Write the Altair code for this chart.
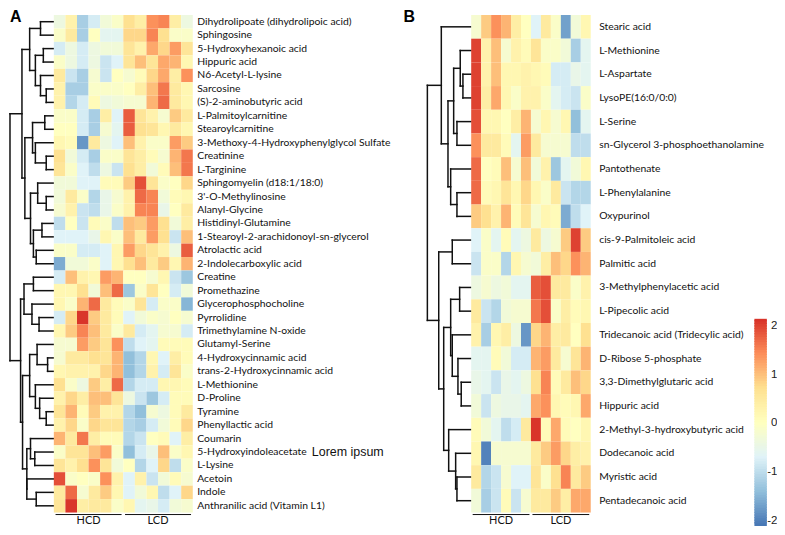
import altair as alt
import pandas as pd

labels_a = ["Dihydrolipoate (dihydrolipoic acid)", "Sphingosine", "5-Hydroxyhexanoic acid", "Hippuric acid",
    "N6-Acetyl-L-lysine", "Sarcosine", "(S)-2-aminobutyric acid", "L-Palmitoylcarnitine", "Stearoylcarnitine",
    "3-Methoxy-4-Hydroxyphenylglycol Sulfate", "Creatinine", "L-Targinine", "Sphingomyelin (d18:1/18:0)",
    "3'-O-Methylinosine", "Alanyl-Glycine", "Histidinyl-Glutamine", "1-Stearoyl-2-arachidonoyl-sn-glycerol",
    "Atrolactic acid", "2-Indolecarboxylic acid", "Creatine", "Promethazine", "Glycerophosphocholine",
    "Pyrrolidine", "Trimethylamine N-oxide", "Glutamyl-Serine", "4-Hydroxycinnamic acid",
    "trans-2-Hydroxycinnamic acid", "L-Methionine", "D-Proline", "Tyramine", "Phenyllactic acid", "Coumarin",
    "5-Hydroxyindoleacetate", "L-Lysine", "Acetoin", "Indole", "Anthranilic acid (Vitamin L1)"]

values_a = [
    [-0.4, 0.3, -1.2, -0.8, -0.3, -0.1, 0.7, 0.4, 1.4, 1.5, 0.4, -0.4],
    [-0.1, 0.5, -1.2, 0.0, -0.6, -0.6, 0.8, 0.8, 1.5, 0.7, -0.1, -0.1],
    [-0.8, -0.4, -0.8, -0.4, -0.3, -0.3, 0.6, 0.3, 1.2, 0.8, 1.3, 0.6],
    [-0.1, -0.4, -0.8, -0.4, -0.9, -0.7, 0.6, 1.0, 0.6, 1.2, 1.1, 0.2],
    [0.5, -0.9, -1.2, -0.2, -0.9, 0.0, -0.2, 0.1, 0.8, 1.2, 0.4, 1.4],
    [0.3, -1.2, -1.2, -0.1, -0.1, -0.1, 0.0, 0.4, 1.0, 1.6, 0.5, 0.2],
    [0.3, -1.1, -0.8, 0.1, -0.4, -0.3, -0.2, -0.2, 1.1, 1.7, 0.5, 0.2],
    [-0.1, -0.1, -0.8, -1.2, 0.4, -0.7, 1.8, 0.6, 0.3, -0.2, 0.9, 0.5],
    [0.0, 0.0, -0.8, -1.2, -0.2, -0.6, 1.8, 0.7, 0.6, 0.2, 0.5, 0.2],
    [0.2, 0.1, -1.8, 0.5, -0.4, -0.7, 1.0, 0.3, -0.1, -0.1, 1.3, 0.9],
    [0.7, -0.3, -0.8, -1.2, -0.1, -0.1, 0.6, 0.4, 0.1, -0.2, 1.1, 1.6],
    [0.6, -0.1, -0.7, -1.0, -0.4, -0.9, 0.7, 0.4, -0.3, 0.1, 1.0, 1.6],
    [-0.3, -0.3, -0.7, -0.7, 0.1, 0.1, 0.9, 1.9, 0.6, -0.1, 0.0, 0.8],
    [-0.3, 0.5, -0.1, -1.1, -0.5, -0.2, 0.3, 1.7, 1.5, -0.3, 0.1, 0.2],
    [-0.2, 0.3, -0.9, -1.0, -0.5, -0.1, 0.3, 1.5, 1.5, -0.5, 0.0, 0.5],
    [-1.0, 0.0, -0.9, 0.1, -0.1, -1.0, 1.0, 0.9, 1.3, 0.7, -0.3, 0.4],
    [-0.7, -0.7, -0.7, -0.5, 0.2, -0.1, 1.0, 0.5, 1.3, 0.7, -0.9, 1.0],
    [-0.1, -0.1, -0.8, -0.8, -0.7, 0.2, 1.3, 0.8, 0.6, 0.3, -0.4, 1.8],
    [-1.6, -0.3, -0.3, -0.1, -0.7, 0.2, 0.7, 1.0, 0.5, 0.9, 0.2, 1.1],
    [-0.8, 1.0, 0.3, 0.2, 1.3, 1.1, 0.0, 0.0, -0.2, 0.2, -0.9, -1.3],
    [0.2, 0.2, 0.7, -0.3, 1.0, 1.7, -1.3, -0.1, 0.6, 0.0, -0.8, -0.3],
    [0.2, -0.1, 1.1, 1.7, 0.5, 0.1, -0.1, 0.6, -0.8, -0.1, -0.1, -1.5],
    [-0.8, 0.8, 2.1, 0.9, 0.5, 0.1, -0.7, -0.3, -0.1, -0.2, 0.0, -0.2],
    [0.2, 0.9, 1.5, 1.0, 0.5, -0.1, 0.5, -0.8, -0.6, -0.2, -0.2, -0.8],
    [-0.2, -0.2, 1.3, 0.9, 0.6, 1.4, -1.0, -0.7, -0.6, 0.1, 0.1, 0.1],
    [-0.2, 0.5, 0.5, 0.7, 0.6, 1.1, -1.4, -1.1, 0.2, -0.7, 0.4, 0.1],
    [0.2, 0.3, 0.3, 0.3, 0.8, 1.1, -1.4, -1.1, 0.3, -0.8, 0.6, -0.1],
    [0.7, -0.1, -0.4, 0.9, 0.4, 1.7, -1.1, -0.8, -0.8, 0.2, 0.2, 0.1],
    [0.3, 0.8, 0.4, 1.0, 1.0, 0.6, -0.4, -0.9, -1.3, -0.8, 0.1, 0.1],
    [0.6, 1.1, 0.1, 0.9, 0.3, 0.3, -1.1, -1.4, -0.2, -0.4, 0.1, 0.5],
    [0.3, 0.8, -0.1, 0.8, 0.6, 0.6, -1.1, -1.2, -0.8, -0.3, 0.1, 0.8],
    [1.1, 0.5, 1.6, 0.4, 0.1, 0.1, -1.1, -0.9, 0.0, 0.1, -0.7, 0.4],
    [-0.1, 0.6, 0.6, 1.0, 1.3, -0.1, -1.4, -0.8, -0.5, 1.0, -0.1, 0.2],
    [0.6, 0.3, 0.7, 1.4, 0.6, -0.3, 0.0, -1.1, -0.7, 0.8, -1.0, -0.1],
    [1.9, -0.1, 0.0, -0.1, 1.4, 0.3, -0.7, 0.3, -0.9, -0.3, 0.1, -0.2],
    [0.5, 1.7, -0.2, 0.5, 0.9, 0.2, -0.7, -0.3, 0.2, -1.0, -0.7, 0.8],
    [0.6, 2.1, 0.4, 0.5, 0.5, -0.1, 0.2, -0.6, -0.5, -0.8, -0.3, -0.2],
]

labels_b = ["Stearic acid", "L-Methionine", "L-Aspartate", "LysoPE(16:0/0:0)", "L-Serine",
    "sn-Glycerol 3-phosphoethanolamine", "Pantothenate", "L-Phenylalanine", "Oxypurinol",
    "cis-9-Palmitoleic acid", "Palmitic acid", "3-Methylphenylacetic acid", "L-Pipecolic acid",
    "Tridecanoic acid (Tridecylic acid)", "D-Ribose 5-phosphate", "3,3-Dimethylglutaric acid", "Hippuric acid",
    "2-Methyl-3-hydroxybutyric acid", "Dodecanoic acid", "Myristic acid", "Pentadecanoic acid"]

values_b = [
    [-0.2, 0.9, 1.4, 1.1, 0.4, 0.0, -0.7, 0.5, -0.1, -1.7, -0.3, 0.2],
    [2.0, 0.3, 1.0, -0.2, 0.3, 0.1, 0.6, -0.1, -0.1, -0.3, -1.2, -0.6],
    [2.0, 0.3, 1.0, 0.2, 0.2, 0.3, 0.2, 0.1, -0.8, -0.8, -0.5, -0.6],
    [2.0, 0.4, 1.2, 0.2, -0.1, 0.3, 0.3, -0.1, -0.6, -0.8, -0.9, -0.1],
    [1.9, 0.2, 0.2, 0.0, 0.4, 1.1, -0.2, 0.2, -0.2, 0.2, -1.4, -0.6],
    [1.4, 0.5, 0.5, 0.1, -0.6, 1.3, 0.5, -0.2, -0.2, -0.2, -1.0, -1.0],
    [1.7, 0.0, 0.1, 1.0, -0.2, 1.0, -0.3, 0.3, -1.3, -0.6, -0.3, 0.2],
    [1.7, 0.1, 0.2, 0.6, 0.2, 0.8, 0.2, -0.1, 0.5, -0.9, -1.1, -1.1],
    [0.9, 0.7, 0.3, 1.1, 0.1, 0.6, -0.2, 0.2, 0.1, -1.6, -1.0, -0.7],
    [-0.7, -0.1, -0.6, 0.1, -0.6, -0.4, 0.5, -0.4, -0.2, 0.9, 2.0, 0.9],
    [-0.9, -0.1, -0.1, -1.1, 0.2, -0.2, -0.3, 0.4, 1.0, 0.8, 1.4, 1.1],
    [-0.4, -0.2, -0.4, -0.3, -0.6, -0.6, 1.8, 1.9, 0.5, 0.5, -0.1, 0.3],
    [0.5, -0.9, -1.1, -0.3, -0.2, -0.2, 1.6, 1.9, -0.1, 0.4, 0.1, 0.2],
    [0.3, -1.2, 0.2, 0.4, -0.4, -1.8, 0.8, 1.1, 0.4, 0.5, 0.0, 0.7],
    [-0.6, -0.6, 0.1, -0.3, -0.8, -0.8, 1.1, 1.3, 0.5, -0.2, 0.6, 1.1],
    [-0.5, -0.6, -0.9, -0.5, -0.6, -0.4, 0.7, 1.5, 0.1, 0.5, 1.0, 0.8],
    [-0.3, -0.9, -0.4, -0.5, -0.5, -0.6, 1.2, 1.4, 0.2, 0.1, 0.2, 1.2],
    [0.1, -0.3, -0.6, -1.0, -0.8, 0.5, 2.1, 0.1, 1.2, 0.1, 0.0, 0.2],
    [0.2, -2.0, -0.2, -0.2, -0.2, -0.2, 0.5, 0.9, 1.3, 0.8, 0.4, 0.3],
    [0.5, -1.1, -0.9, -0.2, -0.7, -0.7, 0.6, -0.1, 0.7, 1.5, 0.5, 0.9],
    [-0.3, -1.2, -0.9, 0.1, -0.9, -0.2, 0.5, 0.5, 0.9, 0.4, 1.2, 1.2],
]

# Dendrograms: nested (merge height, left child, right child); an int is a row index.
tree_a = (50.7,
    (36.7,
        (27.7, (15.0, 0, 1),
            (21.0, (11.7, 2, 3), (15.0, 4, (8.3, 5, 6)))),
        (33.3,
            (24.3, (10.0, 7, 8), (21.0, 9, (8.3, 10, 11))),
            (26.7,
                (18.3, 12, (8.3, 13, 14)),
                (23.3, (13.3, 15, 16), (20.0, 17, 18))))),
    (38.3,
        (34.3, (23.3, 19, 20), (25.0, 21, (16.7, 22, 23))),
        (36.0,
            (27.7,
                (19.0, 24, (6.7, 25, 26)),
                (21.0, 27, (16.0, 28, (8.3, 29, 30)))),
            (31.0,
                (26.7, 31, (21.7, 32, 33)),
                (31.0, 34, (20.0, 35, 36))))))

tree_b = (43.7,
    (29.7,
        0,
        (23.0,
            (17.3,
                (10.7, 1, (8.0, 2, 3)),
                (14.0, 4, 5)),
            (20.3, 6, (14.0, 7, 8)))),
    (32.3,
        (18.7, 9, 10),
        (27.3,
            (20.3,
                (11.3, 11, 12),
                (18.7, 13, (13.0, 14, (9.7, 15, 16)))),
            (22.3, 17, (15.3, 18, (14.0, 19, 20))))))

groups = ["HCD", "LCD"]
group_start = [0.15, 6.15]
group_end = [5.85, 11.85]
legend_ticks = [-2, -1, 0, 1, 2]

FONT = "Lato"
domain = [-2.12, 2.14]
palette = ["#4575b4", "#91bfdb", "#e0f3f8", "#ffffbf", "#fee090", "#fc8d59", "#d73027"]
color_scale = alt.Scale(domain=[domain[0] + i * (domain[1] - domain[0]) / 6 for i in range(7)],
                        range=palette, interpolate="rgb")
HEIGHT = 499.5


def segments(node, out):
    """Return (position, height) of a node, appending its three rules to out."""
    if isinstance(node, int):
        return node + 0.5, 0.0
    h, left, right = node
    yl, hl = segments(left, out)
    yr, hr = segments(right, out)
    out.append(dict(x=h, x2=h, y=yl, y2=yr))
    out.append(dict(x=h, x2=hl, y=yl, y2=yl))
    out.append(dict(x=h, x2=hr, y=yr, y2=yr))
    return (yl + yr) / 2, h


def dendro(tree, n, width, xmax, letter, letter_x):
    rows = []
    segments(tree, rows)
    base = alt.Chart(pd.DataFrame(rows)).mark_rule(color="#111111", strokeWidth=1.5, strokeCap="square").encode(
        x=alt.X("x:Q", scale=alt.Scale(domain=[xmax, 0], nice=False, zero=False), axis=None),
        x2="x2:Q",
        y=alt.Y("y:Q", scale=alt.Scale(domain=[0, n], reverse=True, nice=False, zero=False), axis=None),
        y2="y2:Q",
    )
    tag = alt.Chart(pd.DataFrame({"t": [letter]})).mark_text(
        font="Liberation Sans", fontWeight="bold", fontSize=16, align="left", baseline="top"
    ).encode(x=alt.value(letter_x), y=alt.value(-6), text="t:N")
    return alt.layer(base, tag).properties(width=width, height=HEIGHT)


def heat(labels, values, width, label_pad, extra=None):
    rows = [dict(label=lab, c0=j, c1=j + 1, v=v)
            for lab, vals in zip(labels, values) for j, v in enumerate(vals)]
    cells = alt.Chart(pd.DataFrame(rows)).mark_rect().encode(
        x=alt.X("c0:Q", scale=alt.Scale(domain=[0, 12], nice=False, zero=False), axis=None),
        x2="c1:Q",
        y=alt.Y("label:N", sort=labels, title=None,
                scale=alt.Scale(paddingInner=0, paddingOuter=0),
                axis=alt.Axis(orient="right", ticks=False, domain=False, labelFont=FONT, labelFontSize=10.4,
                              labelColor="#111111", labelPadding=label_pad, labelLimit=300)),
        color=alt.Color("v:Q", scale=color_scale, legend=None),
    )
    gdf = pd.DataFrame(dict(g=groups, a=group_start, b=group_end))
    rules = alt.Chart(gdf).mark_rule(color="#111111", strokeWidth=1).encode(
        x="a:Q", x2="b:Q", y=alt.value(HEIGHT + 2))
    names = alt.Chart(gdf.assign(m=[(p + q) / 2 for p, q in zip(group_start, group_end)])).mark_text(
        font=FONT, fontSize=11, color="#111111", baseline="alphabetic"
    ).encode(x="m:Q", y=alt.value(HEIGHT + 11), text="g:N")
    parts = [cells, rules, names] + ([extra] if extra is not None else [])
    return alt.layer(*parts).properties(width=width, height=HEIGHT)


# Colour bar: its own strip through the shared colour scale, with an axis for the labels.
n_bins = 80
step = (domain[1] - domain[0]) / n_bins
bins = pd.DataFrame({"lo": [domain[0] + i * step for i in range(n_bins)]})
bins["hi"] = bins["lo"] + step * 1.5
bins["mid"] = bins["lo"] + step / 2
bins.loc[n_bins - 1, "hi"] = domain[1]
colorbar = alt.Chart(bins).mark_rect().encode(
    x=alt.value(164.3), x2=alt.value(176.8),
    y=alt.Y("lo:Q", title=None, scale=alt.Scale(domain=domain, range=[513, 305], nice=False, zero=False),
            axis=alt.Axis(orient="right", values=legend_ticks, ticks=False, domain=False, grid=False,
                          labelExpr="'' + datum.value", labelAlign="right", labelPadding=10,
                          labelFont="Liberation Sans", labelFontSize=11.5, labelColor="#222222",
                          labelOverlap=False)),
    y2="hi:Q",
    color=alt.Color("mid:Q", scale=color_scale, legend=None),
).properties(width=176.8, height=HEIGHT)

note = alt.Chart(pd.DataFrame({"t": ["Lorem ipsum"]})).mark_text(
    font="Liberation Sans", fontSize=12.5, align="left", baseline="middle", color="#111111"
).encode(x=alt.value(259), y=alt.value(439), text="t:N")

chart = alt.hconcat(
    dendro(tree_a, 37, 43.5, 50.7, "A", 0),
    heat(labels_a, values_a, 139.5, 4, note),
    dendro(tree_b, 21, 278.7, 278.7, "B", 211),
    heat(labels_b, values_b, 120, 8),
    colorbar,
    spacing=0, bounds="flush",
).resolve_scale(color="shared").properties(
    padding=0
).configure_view(stroke=None)

chart.save("out.html", embed_options={"renderer": "svg", "actions": False})
